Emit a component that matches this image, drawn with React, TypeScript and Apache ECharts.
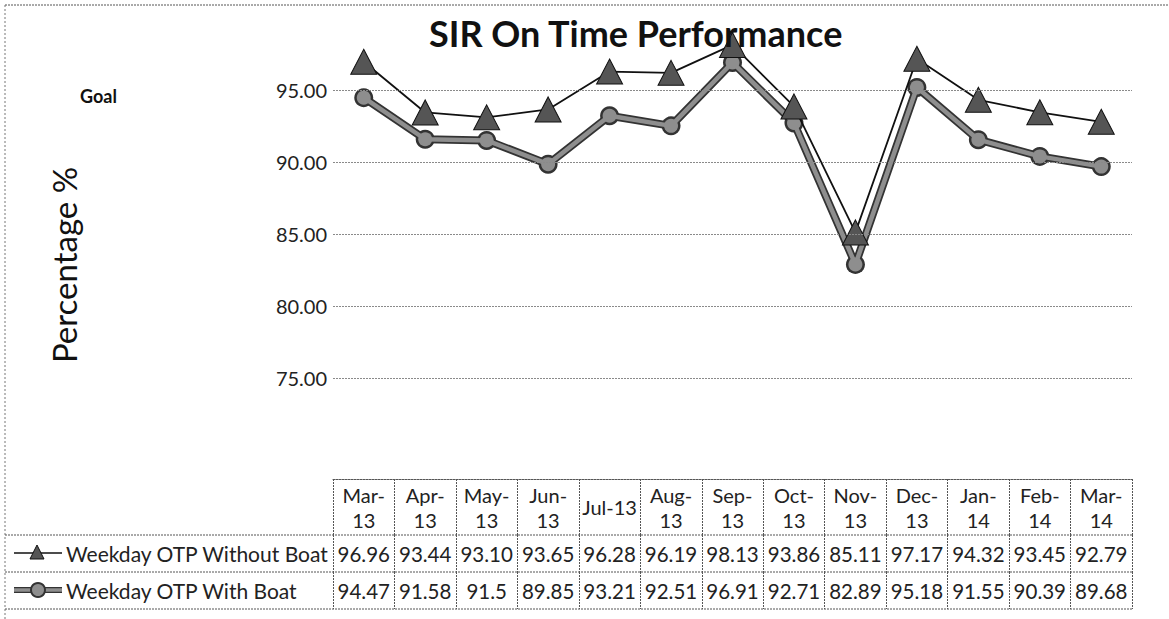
import React, { useEffect, useRef } from "react";
import * as echarts from "echarts";

const CATEGORIES = ["Mar-13", "Apr-13", "May-13", "Jun-13", "Jul-13", "Aug-13", "Sep-13", "Oct-13", "Nov-13", "Dec-13", "Jan-14", "Feb-14", "Mar-14"];
const WITHOUT_BOAT = [96.96, 93.44, 93.1, 93.65, 96.28, 96.19, 98.13, 93.86, 85.11, 97.17, 94.32, 93.45, 92.79];
const WITH_BOAT = [94.47, 91.58, 91.5, 89.85, 93.21, 92.51, 96.91, 92.71, 82.89, 95.18, 91.55, 90.39, 89.68];
const Y_GRID = [75, 80, 85, 90, 95];
const SERIES_NAMES = ["Weekday OTP Without Boat", "Weekday OTP With Boat"];
const TITLE = "SIR On Time Performance";
const Y_NAME = "Percentage %";
const GOAL_LABEL = "Goal";

const FONT = "Lato";
const BORDER = "#555";

export default function App() {
  const ref = useRef<HTMLDivElement>(null);
  useEffect(() => {
    if (!ref.current) return;
    const chart = echarts.init(ref.current, undefined, { renderer: "svg" });
    const plotBottom = 450;
    const headerTop = 479;
    const row1Top = 535;
    const row2Top = 572;
    const row2Bottom = 609;
    const tableRight = 1132;
    const hLine = (y: number, x1: number, x2: number) => ({
      type: "line",
      shape: { x1, y1: y, x2, y2: y },
      style: { stroke: BORDER, lineWidth: 1, lineDash: [2, 1] },
      silent: true,
    });
    chart.setOption({
      animation: false,
      textStyle: { fontFamily: FONT },
      title: {
        text: TITLE,
        left: 424,
        top: 10,
        textStyle: { fontFamily: FONT, fontWeight: "bold", fontSize: 36, color: "#111" },
      },
      grid: { left: 333, right: 1169 - tableRight, top: 18, bottom: 619 - plotBottom },
      yAxis: {
        type: "value",
        min: 70,
        max: 100,
        interval: 5,
        axisLine: { show: false },
        axisTick: { show: false },
        splitLine: { show: false },
        axisLabel: {
          margin: 6,
          fontSize: 20,
          color: "#222",
          fontFamily: FONT,
          formatter: (v: number) => (v === 70 || v === 100 ? "" : v.toFixed(2)),
        },
      },
      xAxis: [
        {
          type: "category",
          data: CATEGORIES,
          position: "bottom",
          offset: headerTop - plotBottom,
          axisLine: { show: true, lineStyle: { color: BORDER, width: 1, type: [2, 1] } },
          axisTick: { show: true, interval: 0, length: row1Top - headerTop, lineStyle: { color: BORDER, type: [2, 1] } },
          axisLabel: {
            interval: 0,
            margin: (row1Top - headerTop) / 2,
            verticalAlign: "middle",
            lineHeight: 25,
            fontSize: 20,
            color: "#222",
            fontFamily: FONT,
            formatter: (v: string) => (v.startsWith("Jul") ? v : v.replace("-", "-\n")),
          },
        },
        {
          type: "category",
          data: CATEGORIES,
          position: "bottom",
          offset: row1Top - plotBottom,
          axisLine: { show: false },
          axisTick: { show: true, interval: 0, length: row2Top - row1Top, lineStyle: { color: BORDER, type: [2, 1] } },
          axisLabel: {
            interval: 0,
            margin: (row2Top - row1Top) / 2,
            verticalAlign: "middle",
            fontSize: 20.5,
            color: "#222",
            fontFamily: FONT,
            formatter: (_v: string, i: number) => WITHOUT_BOAT[i].toFixed(2),
          },
        },
        {
          type: "category",
          data: CATEGORIES,
          position: "bottom",
          offset: row2Top - plotBottom,
          axisLine: { show: false },
          axisTick: { show: true, interval: 0, length: row2Bottom - row2Top, lineStyle: { color: BORDER, type: [2, 1] } },
          axisLabel: {
            interval: 0,
            margin: (row2Bottom - row2Top) / 2,
            verticalAlign: "middle",
            fontSize: 20.5,
            color: "#222",
            fontFamily: FONT,
            formatter: (_v: string, i: number) => String(WITH_BOAT[i]),
          },
        },
      ],
      series: [
        {
          type: "line",
          name: "grid",
          data: [],
          silent: true,
          z: 1,
          markLine: {
            silent: true,
            symbol: "none",
            label: { show: false },
            lineStyle: { color: "#8a8a8a", width: 1, type: [2, 1] },
            data: Y_GRID.map((v) => ({ yAxis: v })),
          },
        },
        {
          type: "line",
          name: SERIES_NAMES[1],
          data: WITH_BOAT,
          z: 2,
          symbol: "circle",
          symbolSize: 19,
          lineStyle: { color: "#333", width: 8 },
          itemStyle: { color: "#333" },
        },
        {
          type: "line",
          name: SERIES_NAMES[1] + " ",
          data: WITH_BOAT,
          z: 3,
          symbol: "circle",
          symbolSize: 14,
          lineStyle: { color: "#8e8e8e", width: 4.5 },
          itemStyle: { color: "#8e8e8e" },
        },
        {
          type: "line",
          name: SERIES_NAMES[0],
          data: WITHOUT_BOAT,
          z: 4,
          symbol: "triangle",
          symbolSize: [26, 25],
          lineStyle: { color: "#111", width: 1.8 },
          itemStyle: { color: "#555", borderColor: "#111", borderWidth: 1 },
        },
      ],
      graphic: [
        hLine(5, 5, 1169),
        { type: "line", shape: { x1: 5, y1: 5, x2: 5, y2: 619 }, style: { stroke: "#777", lineWidth: 1, lineDash: [2, 2] }, silent: true },
        hLine(row1Top, 5, tableRight),
        hLine(row2Top, 5, tableRight),
        hLine(row2Bottom, 5, tableRight),
        // legend keys
        { type: "line", shape: { x1: 14, y1: 553, x2: 62, y2: 553 }, style: { stroke: "#111", lineWidth: 1.5 } },
        { type: "polygon", shape: { points: [[37, 545], [30, 559], [44, 559]] }, style: { fill: "#555", stroke: "#111", lineWidth: 1 } },
        { type: "line", shape: { x1: 14, y1: 590, x2: 62, y2: 590 }, style: { stroke: "#333", lineWidth: 6 } },
        { type: "line", shape: { x1: 14, y1: 590, x2: 62, y2: 590 }, style: { stroke: "#8e8e8e", lineWidth: 3.5 } },
        { type: "circle", shape: { cx: 38, cy: 590, r: 7 }, style: { fill: "#8e8e8e", stroke: "#333", lineWidth: 2 } },
        {
          type: "text", x: 66, y: 553,
          style: { text: SERIES_NAMES[0], font: `21px ${FONT}`, fill: "#222", verticalAlign: "middle" },
        },
        {
          type: "text", x: 66, y: 590,
          style: { text: SERIES_NAMES[1], font: `21px ${FONT}`, fill: "#222", verticalAlign: "middle" },
        },
        {
          type: "text", x: 80, y: 96,
          style: { text: GOAL_LABEL, font: `bold 18px ${FONT}`, fill: "#111", verticalAlign: "middle" },
        },
        {
          type: "text", x: 64, y: 265, rotation: Math.PI / 2,
          style: { text: Y_NAME, font: `33px ${FONT}`, fill: "#111", align: "center", verticalAlign: "middle" },
        },
      ],
    });
    return () => chart.dispose();
  }, []);
  return <div ref={ref} style={{ position: "absolute", left: 0, top: 0, width: 1169, height: 619, background: "#fff" }} />;
}
